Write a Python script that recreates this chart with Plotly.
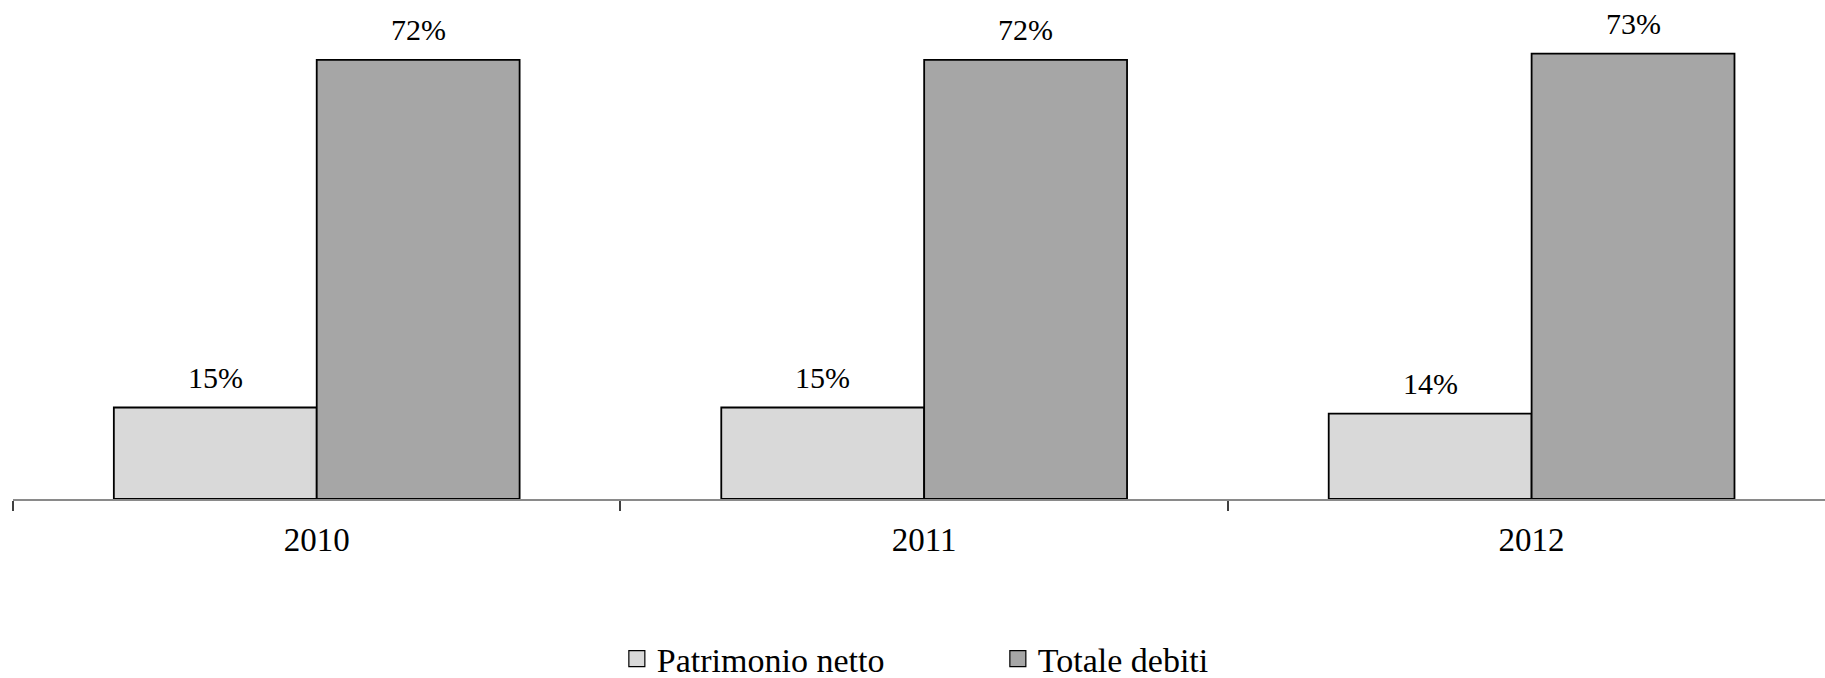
import plotly.graph_objects as go

# Quote dei debiti e del patrimonio netto sul totale delle fonti
years = ["2010", "2011", "2012"]
patrimonio_netto = [15, 15, 14]
totale_debiti = [72, 72, 73]
series_names = ["Patrimonio netto", "Totale debiti"]
series_colors = ["#D9D9D9", "#A6A6A6"]

FONT = "Liberation Serif"
BARGAP = 0.332
x_idx = list(range(len(years)))
bar_w = (1 - BARGAP) / 2

fig = go.Figure()
for name, vals, col in zip(series_names, [patrimonio_netto, totale_debiti], series_colors):
    fig.add_trace(go.Bar(
        x=x_idx, y=vals, name=name, showlegend=False,
        marker=dict(color=col, line=dict(color="black", width=1.8)),
    ))
    # legend proxy with a larger square swatch
    fig.add_trace(go.Scatter(
        x=[None], y=[None], mode="markers", name=name,
        marker=dict(symbol="square", size=16, color=col,
                    line=dict(color="black", width=1.2)),
    ))

# value labels above each bar
annotations = []
for k, vals in enumerate([patrimonio_netto, totale_debiti]):
    shift = (k - 0.5) * bar_w
    for i, v in zip(x_idx, vals):
        annotations.append(dict(
            x=i + shift, y=v, xref="x", yref="y", text=f"{v}%",
            showarrow=False, yanchor="bottom", yshift=12,
            font=dict(family=FONT, size=30, color="black"),
        ))

fig.update_layout(
    width=1825, height=678,
    margin=dict(l=13, r=0, t=0, b=179),
    paper_bgcolor="white", plot_bgcolor="white",
    barmode="group", bargap=BARGAP, bargroupgap=0,
    font=dict(family=FONT, color="black"),
    annotations=annotations,
    showlegend=True,
    legend=dict(
        orientation="h", xref="container", yref="container",
        x=0.338, y=0.028, xanchor="left", yanchor="middle",
        font=dict(family=FONT, size=34, color="black"),
        entrywidth=336, entrywidthmode="pixels",
        bgcolor="rgba(0,0,0,0)",
    ),
    xaxis=dict(
        range=[-0.5, 2.483], tickmode="array", tickvals=x_idx, ticktext=years,
        ticks="", showgrid=False, zeroline=False,
        showline=True, linecolor="#8a8a8a", linewidth=2, layer="below traces",
        tickfont=dict(family=FONT, size=33, color="black"),
        ticklabelstandoff=10,
        minor=dict(tickmode="array", tickvals=[-0.5, 0.5, 1.5, 2.5], ticks="outside",
                   ticklen=10, tickwidth=1.5, tickcolor="#404040", showgrid=False),
    ),
    yaxis=dict(range=[0, 81.8], visible=False, showgrid=False, zeroline=False),
)

fig.write_html("out.html")
